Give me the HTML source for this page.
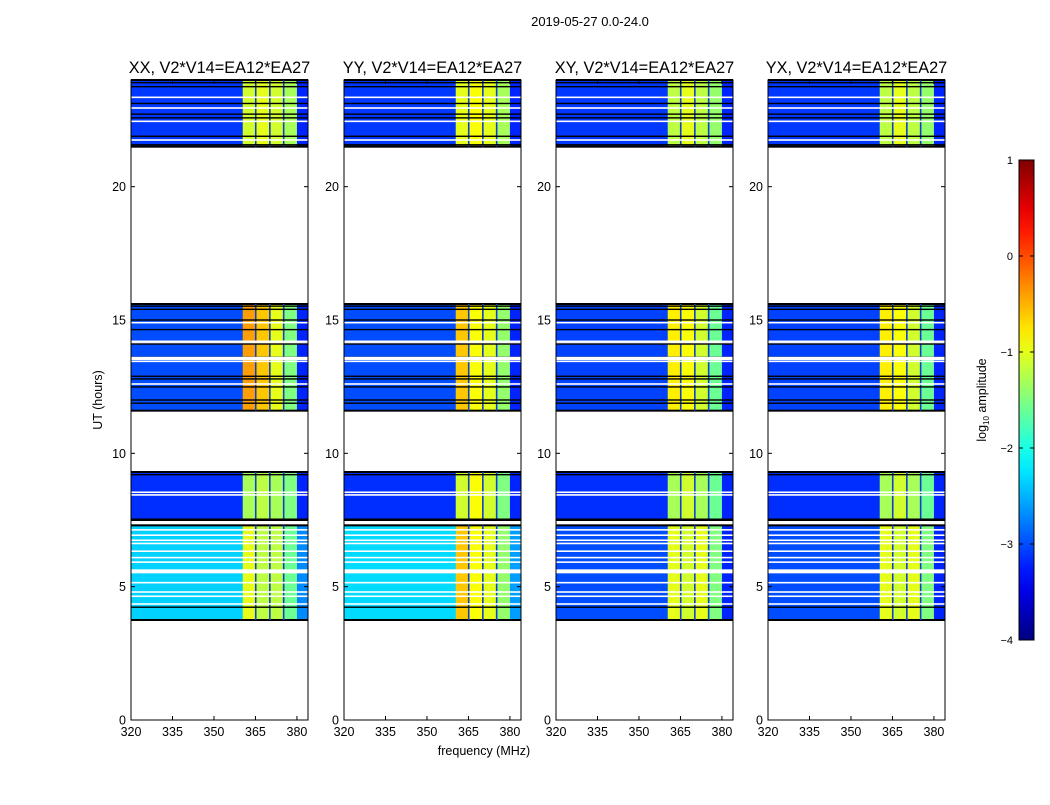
<!DOCTYPE html>
<html><head><meta charset="utf-8"><style>
body{margin:0;background:#fff;}
svg text{font-family:"Liberation Sans","DejaVu Sans",sans-serif;fill:#000;}
</style></head><body>
<svg id="c" width="1050" height="800" viewBox="0 0 1050 800" xmlns="http://www.w3.org/2000/svg">
<rect x="0" y="0" width="1050" height="800" fill="#fff"/>
<text x="590" y="26" font-size="13" text-anchor="middle">2019-05-27 0.0-24.0</text>
</svg>
<script>
const panelTitles=["XX, V2*V14=EA12*EA27","YY, V2*V14=EA12*EA27","XY, V2*V14=EA12*EA27","YX, V2*V14=EA12*EA27"];
const panelNames=["xx","yy","xy","yx"];
const freqEdges=[320,360.4,365.1,370.2,375.2,380,384];
const timeBlocks=[[3.75,7.3],[7.5,9.3],[11.6,15.6],[21.5,24]];
// log10 amplitude per block (rows) per frequency segment (cols)
const xxValues=[[-2.35,-1.0,-1.2,-1.2,-1.6,-2.7],[-3.15,-1.3,-1.2,-1.3,-1.5,-3.2],[-3.0,-0.4,-0.6,-1.0,-1.5,-3.2],[-3.1,-1.1,-1.0,-1.1,-1.3,-3.2]];
const yyValues=[[-2.3,-0.6,-0.9,-1.0,-1.4,-2.6],[-3.15,-1.1,-0.9,-1.1,-1.5,-3.2],[-3.0,-0.6,-0.9,-1.0,-1.4,-3.2],[-3.1,-1.0,-0.9,-1.0,-1.3,-3.2]];
const xyValues=[[-3.0,-1.0,-1.1,-1.0,-1.5,-3.2],[-3.15,-1.3,-1.1,-1.3,-1.6,-3.2],[-3.05,-0.8,-0.9,-1.1,-1.6,-3.2],[-3.1,-1.2,-1.0,-1.2,-1.4,-3.2]];
const yxValues=[[-3.0,-1.0,-1.1,-1.0,-1.5,-3.2],[-3.15,-1.3,-1.1,-1.3,-1.6,-3.2],[-3.05,-0.8,-0.9,-1.1,-1.6,-3.2],[-3.1,-1.2,-1.0,-1.2,-1.4,-3.2]];
const whiteLines=[7.13,6.93,6.74,6.62,6.33,6.09,5.92,5.15,4.8,4.64,4.35,8.54,8.44,14.9,14.2,14.14,13.45,12.6,23.35,22.95,22.45,21.75];
const blackLines=[15.52,15.4,15.0,14.64,14.1,13.6,12.89,12.79,12.49,12.0,11.88,4.23,9.2,7.53,23.9,23.75,23.12,22.72,22.58,21.89,21.57];
const whiteGaps=[[5.5,5.65],[13.5,13.62]];
const freqTicks=[320,335,350,365,380];
const timeTicks=[0,5,10,15,20];
const cbarTicks=[-4,-3,-2,-1,0,1];
const allValues=[xxValues,yyValues,xyValues,yxValues];

const NS="http://www.w3.org/2000/svg";
const svg=document.getElementById('c');
const panelX=[131,344,556,768], PW=177, PT=80, PB=720;
const fmin=320,fmax=384,tmin=0,tmax=24,vmin=-4,vmax=1;
function cl(v){return Math.max(0,Math.min(1,v));}
function jet(v){const t=cl((v-vmin)/(vmax-vmin));
 const r=cl(1.5-Math.abs(4*t-3)),g=cl(1.5-Math.abs(4*t-2)),b=cl(1.5-Math.abs(4*t-1));
 return `rgb(${Math.round(r*255)},${Math.round(g*255)},${Math.round(b*255)})`;}
function mk(tag,attrs,parent){const e=document.createElementNS(NS,tag);for(const k in attrs)e.setAttribute(k,attrs[k]);(parent||svg).appendChild(e);return e;}
const yOf=t=>PB-(t-tmin)/(tmax-tmin)*(PB-PT);

panelX.forEach((px,p)=>{
 const xOf=f=>px+(f-fmin)/(fmax-fmin)*PW;
 const g=mk('g',{});
 
 
 timeBlocks.forEach((b,bi)=>{
  for(let s=0;s<freqEdges.length-1;s++){
   const r=mk('rect',{x:xOf(freqEdges[s]),y:yOf(b[1]),width:xOf(freqEdges[s+1])-xOf(freqEdges[s])+0.3,height:yOf(b[0])-yOf(b[1]),fill:jet(allValues[p][bi][s])},g);
   
   
  }
  [b[0],b[1]].forEach(t=>mk('rect',{x:px,y:yOf(t)-1,width:PW,height:2,fill:'#000'},g));
 });
 [365.1,370.2,375.2].forEach(f=>timeBlocks.forEach(b=>mk('rect',{x:xOf(f)-0.8,y:yOf(b[1]),width:1.6,height:yOf(b[0])-yOf(b[1]),fill:'#1040d0'},g)));
 whiteLines.forEach(t=>mk('rect',{x:px,y:yOf(t)-0.8,width:PW,height:1.6,fill:'#fff'},g));
 blackLines.forEach(t=>mk('rect',{x:px,y:yOf(t)-0.7,width:PW,height:1.4,fill:'#000'},g));
 whiteGaps.forEach(w=>mk('rect',{x:px,y:yOf(w[1]),width:PW,height:yOf(w[0])-yOf(w[1]),fill:'#fff'},g));
 const fr=mk('rect',{x:px,y:PT,width:PW,height:PB-PT,fill:'none',stroke:'#000','stroke-width':1},g);
 
 
 const tt=mk('text',{x:px+PW/2,y:73,'font-size':16.3,'text-anchor':'middle'},g);
 tt.textContent=panelTitles[p];
 
 
 freqTicks.forEach(f=>{const x=xOf(f);
  mk('line',{x1:x,x2:x,y1:PB,y2:PB-4,stroke:'#000'},g);mk('line',{x1:x,x2:x,y1:PT,y2:PT+4,stroke:'#000'},g);
  const l=mk('text',{x:x,y:PB+16,'font-size':12.5,'text-anchor':'middle'},g);l.textContent=f;
  
  });
 timeTicks.forEach(t=>{const y=yOf(t);
  mk('line',{x1:px,x2:px+4,y1:y,y2:y,stroke:'#000'},g);mk('line',{x1:px+PW,x2:px+PW-4,y1:y,y2:y,stroke:'#000'},g);
  const l=mk('text',{x:px-5,y:y+4.5,'font-size':12.5,'text-anchor':'end'},g);l.textContent=t;
  
  });
});
const xl=mk('text',{x:484,y:755,'font-size':12.5,'text-anchor':'middle'});xl.textContent='frequency (MHz)';


const yl=mk('text',{x:102,y:400,'font-size':12.5,'text-anchor':'middle',transform:'rotate(-90 102 400)'});yl.textContent='UT (hours)';


const cb=mk('g',{});


const CX=1019,CW=15,CT=160,CB=640;
const defs=mk('defs',{});const lg=mk('linearGradient',{id:'jg',x1:0,y1:1,x2:0,y2:0},defs);
for(let i=0;i<=20;i++){const v=vmin+(vmax-vmin)*i/20;mk('stop',{offset:i/20,'stop-color':jet(v)},lg);}
mk('rect',{x:CX,y:CT,width:CW,height:CB-CT,fill:'url(#jg)',stroke:'#000','stroke-width':1},cb);
cbarTicks.forEach(v=>{const y=CB-(v-vmin)/(vmax-vmin)*(CB-CT);
 mk('line',{x1:CX,x2:CX+4,y1:y,y2:y,stroke:'#000'},cb);mk('line',{x1:CX+CW,x2:CX+CW-4,y1:y,y2:y,stroke:'#000'},cb);
 const l=mk('text',{x:1013,y:y+4,'font-size':11,'text-anchor':'end'},cb);l.textContent=v<0?'\u2212'+(-v):String(v);
 
 });
const ct=mk('text',{x:986,y:400,'font-size':12.5,'text-anchor':'middle',transform:'rotate(-90 986 400)'},cb);
ct.innerHTML='log<tspan font-size="8" dy="3">10</tspan><tspan dy="-3"> amplitude</tspan>';


</script>
</body></html>
